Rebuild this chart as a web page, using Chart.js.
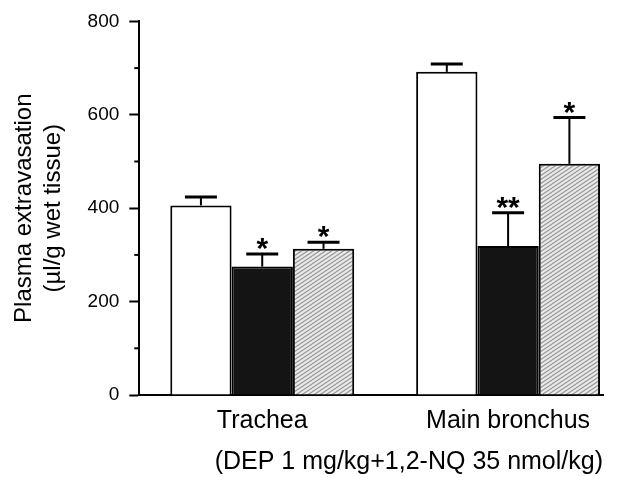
<!DOCTYPE html>
<html lang="en">
<head>
<meta charset="UTF-8" />
<title>Plasma extravasation</title>
<script src="https://cdn.jsdelivr.net/npm/chart.js"></script>
<style>
  body { margin: 0; background: #fff; }
  #wrap { width: 623px; height: 477px; }
</style>
</head>
<body>
<div id="wrap"><canvas id="chart"></canvas></div>
<script>
// data
const categories = ["Trachea", "Main bronchus"];
const controlValues = [406, 692];
const controlErrors = [18, 17];
const treatAValues = [275, 319];
const treatAErrors = [27, 71];
const treatBValues = [313, 495];
const treatBErrors = [14, 99];
const controlMarks = ["", ""];
const treatAMarks = ["*", "**"];
const treatBMarks = ["*", "*"];
const yTicks = [0, 200, 400, 600, 800];

const FONT = "'Liberation Sans', Arial, Helvetica, sans-serif";

// diagonal hatch for the third group
function hatch() {
    const c = document.createElement("canvas");
    c.width = 6; c.height = 4;
    const g = c.getContext("2d");
    g.fillStyle = "#ebebeb";
    g.fillRect(0, 0, 6, 4);
    g.strokeStyle = "#979797";
    g.lineWidth = 1.2;
    g.beginPath();
    [-4, 0, 4].forEach(dy => {
        g.moveTo(-1.5, 5 + dy);
        g.lineTo(7.5, -1 + dy);
    });
    g.stroke();
    return g.createPattern(c, "repeat");
}

const series = [
    { label: "Control", values: controlValues, errors: controlErrors, marks: controlMarks, fill: "#ffffff" },
    { label: "Group A", values: treatAValues, errors: treatAErrors, marks: treatAMarks, fill: "#141414" },
    { label: "Group B", values: treatBValues, errors: treatBErrors, marks: treatBMarks, fill: hatch() }
];

const errorBars = {
    id: "errorBars",
    afterDatasetsDraw(chart) {
        const ctx = chart.ctx;
        const yScale = chart.scales.y;
        ctx.save();
        ctx.strokeStyle = "#000";
        ctx.fillStyle = "#000";
        series.forEach((s, i) => {
            const meta = chart.getDatasetMeta(i);
            meta.data.forEach((bar, j) => {
                const top = yScale.getPixelForValue(s.values[j] + s.errors[j]);
                ctx.lineWidth = 2;
                ctx.beginPath();
                ctx.moveTo(bar.x, bar.y);
                ctx.lineTo(bar.x, top);
                ctx.stroke();
                ctx.lineWidth = 3;
                ctx.beginPath();
                ctx.moveTo(bar.x - 16, top);
                ctx.lineTo(bar.x + 16, top);
                ctx.stroke();
                if (s.marks[j]) {
                    ctx.font = "bold 30px " + FONT;
                    ctx.textAlign = "center";
                    ctx.textBaseline = "alphabetic";
                    ctx.fillText(s.marks[j], bar.x, top + 4);
                }
            });
        });
        // short minor ticks on the y axis
        const left = chart.chartArea.left;
        ctx.lineWidth = 2;
        yScale.ticks.forEach(t => {
            if (yTicks.includes(t.value)) return;
            const y = yScale.getPixelForValue(t.value);
            ctx.beginPath();
            ctx.moveTo(left - 5, y);
            ctx.lineTo(left, y);
            ctx.stroke();
        });
        ctx.restore();
    }
};

new Chart(document.getElementById("chart"), {
    type: "bar",
    data: {
        datasets: series.map(s => ({
            label: s.label,
            data: s.values.map((v, i) => ({ x: i, y: v })),
            backgroundColor: s.fill,
            borderColor: "#000",
            borderWidth: 2,
            barPercentage: 1,
            categoryPercentage: 0.748
        }))
    },
    options: {
        responsive: true,
        maintainAspectRatio: false,
        animation: false,
        layout: { padding: { left: 10, right: 20, top: 16, bottom: 0 } },
        plugins: {
            legend: { display: false },
            tooltip: { enabled: false }
        },
        scales: {
            x: {
                type: "linear",
                offset: false,
                min: -0.5,
                max: 1.386,
                afterBuildTicks: scale => {
                    scale.ticks = categories.map((c, i) => ({ value: i }));
                },
                ticks: {
                    color: "#000",
                    padding: 11,
                    font: { family: FONT, size: 25 },
                    callback: v => categories[v]
                },
                grid: { display: false, drawTicks: false, offset: false },
                border: { display: true, color: "#000", width: 2 },
                title: {
                    display: true,
                    align: "end",
                    text: "(DEP 1 mg/kg+1,2-NQ 35 nmol/kg)",
                    color: "#000",
                    font: { family: FONT, size: 25 },
                    padding: { top: 0, bottom: 0 }
                }
            },
            y: {
                min: 0,
                max: 800,
                ticks: {
                    stepSize: 100,
                    padding: 10,
                    color: "#000",
                    font: { family: FONT, size: 19 },
                    callback: v => yTicks.includes(v) ? v : ""
                },
                grid: {
                    drawOnChartArea: false,
                    tickLength: 10,
                    tickWidth: 2,
                    tickColor: c => (c.tick && yTicks.includes(c.tick.value)) ? "#000" : "rgba(0,0,0,0)"
                },
                border: { color: "#000", width: 2 },
                title: {
                    display: true,
                    text: ["Plasma extravasation", "(\u00b5l/g wet tissue)"],
                    color: "#000",
                    font: { family: FONT, size: 24 },
                    padding: { top: 0, bottom: 10 }
                }
            }
        }
    },
    plugins: [errorBars]
});
</script>
</body>
</html>
